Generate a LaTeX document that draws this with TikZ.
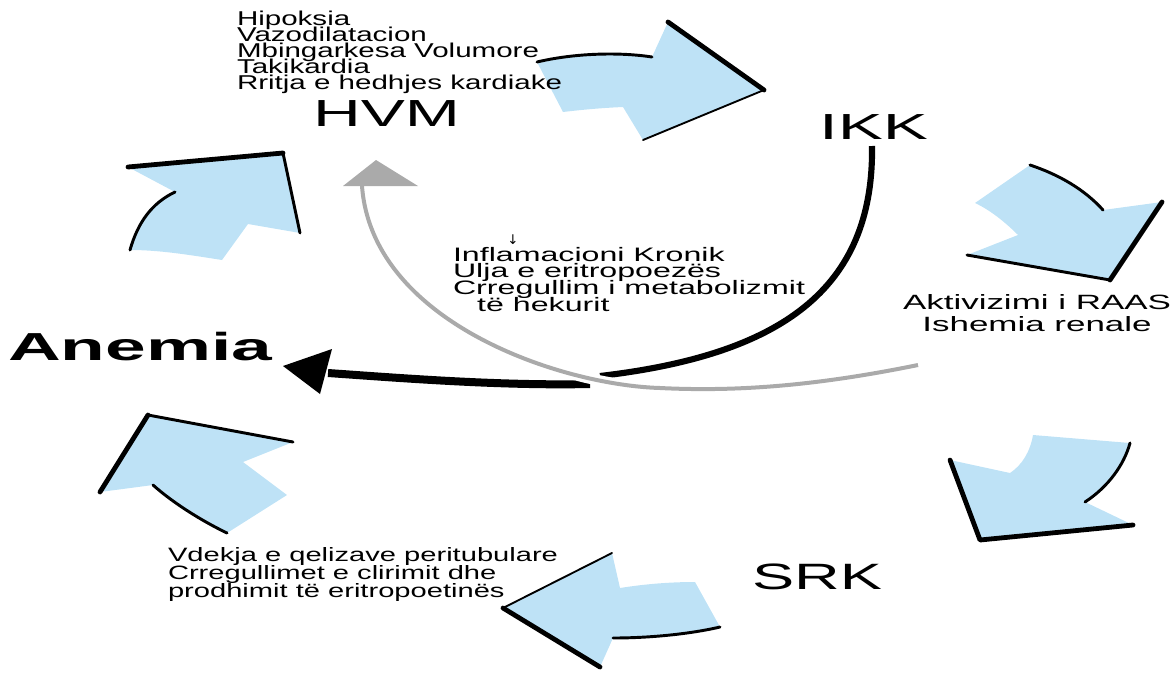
\documentclass[tikz,border=0pt]{standalone}
\usepackage{fontspec}
\setmainfont{Liberation Sans}
\newfontfamily\symfont{DejaVu Sans}
\usepackage{graphicx}
\usetikzlibrary{calc}

\definecolor{pale}{RGB}{190,226,246}
\definecolor{greyline}{RGB}{170,170,170}

% one drawing unit = 0.75pt
\newdimen\pxu \pxu=0.75pt

% stacked lines with a fixed baseline distance
\newcommand\lstack[2]{\vtop{\baselineskip=#1\relax\lineskiplimit=-\maxdimen\lineskip=0pt\halign{##\hfil\cr#2\crcr}}}
\newcommand\cstack[2]{\vtop{\baselineskip=#1\relax\lineskiplimit=-\maxdimen\lineskip=0pt\halign{\hfil##\hfil\cr#2\crcr}}}

\tikzset{
  txt/.style={inner sep=0pt, outer sep=0pt},
  blob/.style={fill=pale, draw=none},
  rim/.style={draw=black, line width=2.2pt, line cap=round, line join=round},
  rimthick/.style={rim, line width=3.6pt},
  rimthin/.style={rim, line width=1.4pt},
  mainline/.style={draw=black, line cap=butt},
  feedback/.style={draw=greyline, line width=3pt},
}

\begin{document}
\begin{tikzpicture}[x=0.75pt, y=-0.75pt]
\useasboundingbox (0,0) rectangle (1176,675);

% ---- cycle arrows ----
% top: towards IKK
\fill[blob] (537,62) .. controls (575,53) and (620,52) .. (652,57) -- (668,22) -- (764,90) -- (643,140) -- (623,107) .. controls (600,108) and (580,110) .. (563,112) -- cycle;
\draw[rim] (537,62) .. controls (575,53) and (620,52) .. (652,57);
\draw[rimthick] (668,22) -- (764,90);
\draw[rimthin] (764,90) -- (643,140);

% upper right: towards RAAS
\fill[blob] (1030,165) .. controls (1060,175) and (1085,190) .. (1103,210) -- (1162,202) -- (1110,280) -- (967,255) -- (1018,235) .. controls (1005,222) and (990,210) .. (975,203) -- cycle;
\draw[rim] (1030,165) .. controls (1060,175) and (1085,190) .. (1103,210);
\draw[rimthick] (1162,202) -- (1110,280);
\draw[rim] (1110,280) -- (967,255);

% lower right: towards SRK
\fill[blob] (1130,443) -- (1033,435) .. controls (1030,452) and (1022,465) .. (1010,473) -- (950,460) -- (980,540) -- (1133,525) -- (1085,502) .. controls (1108,487) and (1124,465) .. (1130,443) -- cycle;
\draw[rimthick] (950,460) -- (980,540) -- (1133,525);
\draw[rim] (1085,502) .. controls (1108,487) and (1124,465) .. (1130,443);

% bottom: leftwards
\fill[blob] (503,608) -- (612,553) -- (620,588) .. controls (645,584) and (670,582) .. (695,582) -- (720,627) .. controls (690,634) and (650,638) .. (613,638) -- (600,667) -- cycle;
\draw[rimthin] (503,608) -- (612,553);
\draw[rimthick] (503,608) -- (600,667);
\draw[rim] (720,627) .. controls (690,634) and (650,638) .. (613,638);

% lower left: towards Anemia
\fill[blob] (148,415) -- (293,442) -- (243,462) -- (287,495) -- (227,533) .. controls (200,520) and (172,502) .. (153,485) -- (100,492) -- cycle;
\draw[rim] (148,415) -- (293,442);
\draw[rimthick] (148,415) -- (100,492);
\draw[rim] (153,485) .. controls (172,502) and (200,520) .. (227,533);

% upper left: towards HVM
\fill[blob] (128,167) -- (283,153) -- (300,233) -- (248,224) -- (222,260) .. controls (190,255) and (160,250) .. (130,250) .. controls (138,222) and (152,203) .. (175,192) -- cycle;
\draw[rimthick] (128,167) -- (283,153);
\draw[rim] (283,153) -- (300,233);
\draw[rim] (130,250) .. controls (138,222) and (152,203) .. (175,192);

% ---- labels ----
\node[txt, anchor=base west] (causes) at (237,25) {\resizebox{325\pxu}{\height}{\fontsize{15pt}{12pt}\selectfont\lstack{12pt}{Hipoksia\cr Vazodilatacion\cr Mbingarkesa Volumore\cr Takikardia\cr Rritja e hedhjes kardiake}}};
\node[txt, anchor=base west] (hvm) at (313,126) {\resizebox{147\pxu}{\height}{\fontsize{28.3pt}{30pt}\selectfont HVM}};
\node[txt, anchor=base west] (ikk) at (819,139) {\resizebox{109\pxu}{\height}{\fontsize{27.2pt}{30pt}\selectfont IKK}};
\node[txt, anchor=base] (raas) at (1037,309) {\resizebox{268\pxu}{\height}{\fontsize{15.5pt}{16.5pt}\selectfont\cstack{16.5pt}{Aktivizimi i RAAS\cr Ishemia renale}}};
\node[txt, anchor=base west] (srk) at (752,589) {\resizebox{130\pxu}{\height}{\fontsize{27.5pt}{30pt}\selectfont SRK}};
\node[txt, anchor=base west] (epo) at (168,561) {\resizebox{390\pxu}{\height}{\fontsize{14.5pt}{13.5pt}\selectfont\lstack{13.5pt}{Vdekja e qelizave peritubulare\cr Crregullimet e clirimit dhe\cr prodhimit të eritropoetinës}}};
\node[txt, anchor=base west] (anemia) at (8,360) {\resizebox{264\pxu}{\height}{\fontsize{29.3pt}{30pt}\selectfont\bfseries Anemia}};
\node[txt, anchor=base west] (inflam) at (453,261) {\resizebox{352\pxu}{\height}{\fontsize{14.6pt}{12.5pt}\selectfont\lstack{12.5pt}{Inflamacioni Kronik\cr Ulja e eritropoezës\cr Crregullim i metabolizmit\cr\hskip 11pt të hekurit}}};
\node[txt] (tick) at (513,240) {\symfont\fontsize{10pt}{10pt}\selectfont ↓};

% ---- connectors ----
\coordinate (ikkfoot) at (872,146);
\coordinate (upperend) at (600,376);
\coordinate (lowerstart) at (590,384);
\coordinate (anemtail) at (328,373);
\coordinate (raasfoot) at (918,365);
\coordinate (hvmtail) at (362,186);

\draw[mainline, line width=4.6pt] (ikkfoot) .. controls (874,290) and (780,355) .. (upperend);
\draw[mainline, line width=6pt] (lowerstart) .. controls (500,386) and (400,378) .. (anemtail);
\fill[black] (283,366) -- (332,349) -- (320,394) -- cycle;

\begin{scope}
  \clip (570,360) rectangle (615,405);
  \draw[white, line width=8pt] (raasfoot) .. controls (820,385) and (740,392) .. (660,388) .. controls (560,385) and (372,322) .. (hvmtail);
\end{scope}
\draw[feedback] (raasfoot) .. controls (820,385) and (740,392) .. (660,388) .. controls (560,385) and (372,322) .. (hvmtail);
\fill[greyline] (376,160) -- (418,186) -- (343,186) -- cycle;

\end{tikzpicture}
\end{document}
